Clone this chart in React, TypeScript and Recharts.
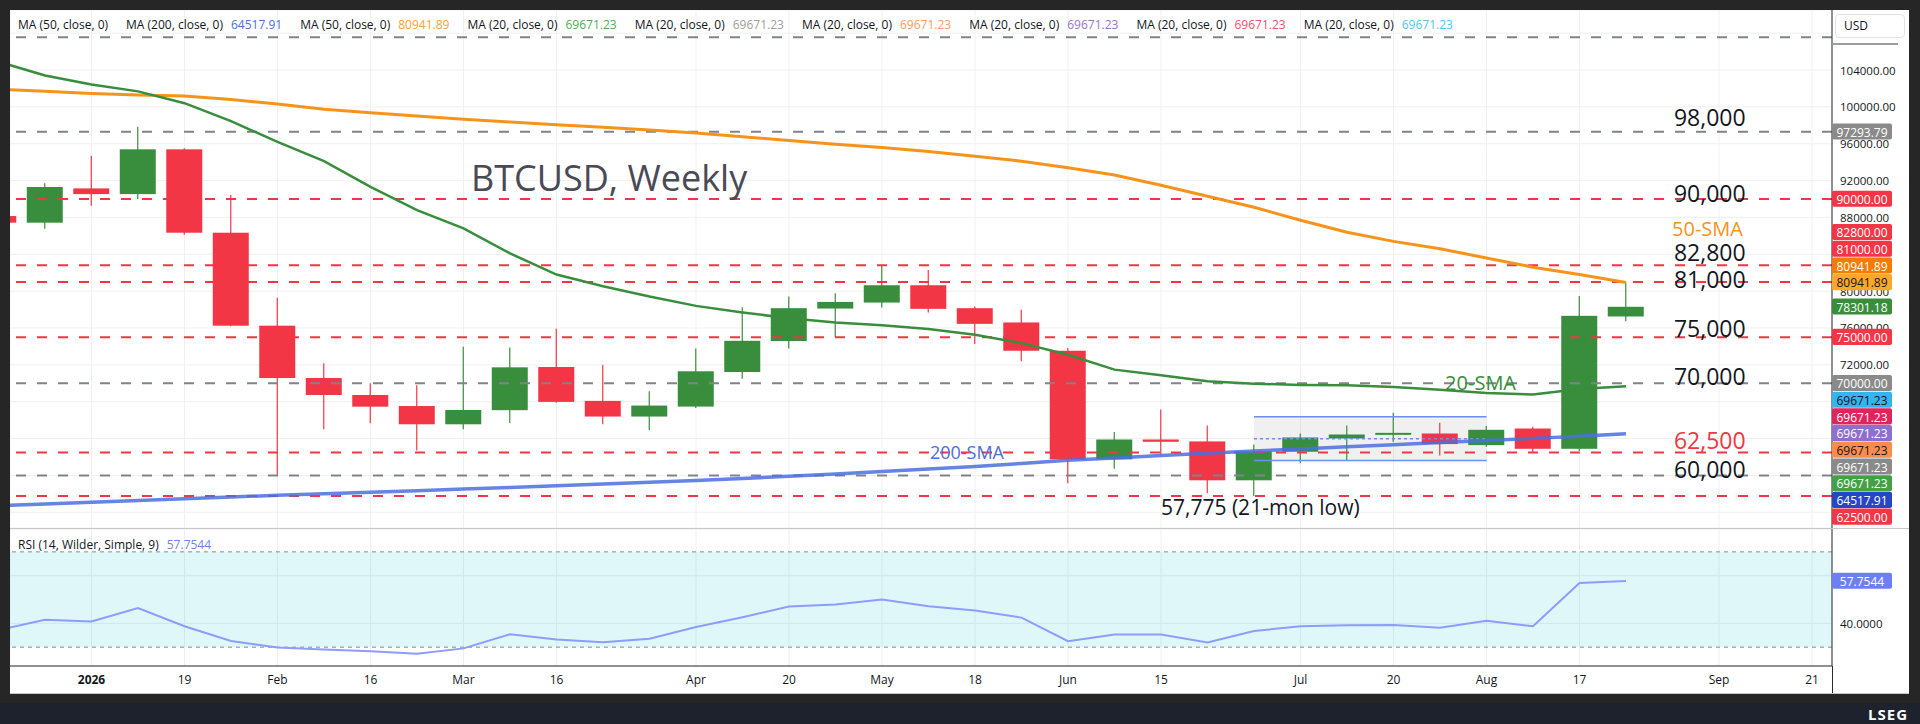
import React from "react";
import {
  ComposedChart,
  Bar,
  Line,
  XAxis,
  YAxis,
  CartesianGrid,
  ReferenceLine,
  ReferenceArea,
  ReferenceDot,
} from "recharts";

const FONT = '"Open Sans", "Noto Sans", sans-serif';
const GREEN = "#388e3c";
const RED = "#f23645";
const GRAY = "#8a8a8a";

// weekly bars, first one is cut off by the left edge
const WEEKS = [
  "Dec 22", "Dec 29", "Jan 5", "Jan 12", "Jan 19", "Jan 26", "Feb 2", "Feb 9", "Feb 16",
  "Feb 23", "Mar 2", "Mar 9", "Mar 16", "Mar 23", "Mar 30", "Apr 6", "Apr 13", "Apr 20",
  "Apr 27", "May 4", "May 11", "May 18", "May 25", "Jun 1", "Jun 8", "Jun 15", "Jun 22",
  "Jun 29", "Jul 6", "Jul 13", "Jul 20", "Jul 27", "Aug 3", "Aug 10", "Aug 17", "Aug 24",
];
const OPEN = [
  88150, 87430, 91150, 90530, 95390, 86340, 76250, 70570, 68730, 67530, 65550, 67080,
  71765, 68090, 66390, 67470, 71220, 74580, 78110, 78760, 80640, 78150, 76600, 73530,
  61740, 63900, 63690, 59470, 62570, 64010, 64480, 64550, 63290, 65090, 62890, 77250,
];
const HIGH = [
  88600, 91700, 94700, 97850, 95500, 90430, 79290, 72170, 70000, 69780, 73970, 73890,
  75910, 71980, 69130, 73780, 78260, 79410, 79770, 82840, 82290, 78330, 77970, 73820,
  64700, 67150, 65420, 63360, 64550, 65420, 66790, 65710, 65350, 65270, 79480, 80940,
];
const LOW = [
  86900, 86780, 89270, 90000, 86130, 76200, 60000, 65000, 65650, 62700, 65000, 65700,
  67900, 65560, 64910, 67330, 70500, 73780, 74970, 78220, 77680, 74250, 72380, 59140,
  60730, 62280, 58060, 57775, 61310, 61670, 63620, 62170, 63100, 62460, 62640, 76740,
];
const CLOSE = [
  87430, 91300, 90530, 95390, 86340, 76250, 70570, 68730, 67460, 65550, 67100, 71730,
  67980, 66390, 67580, 71300, 74610, 78150, 78830, 80640, 78080, 76450, 73530, 61740,
  63900, 63650, 59470, 62610, 64120, 64440, 64620, 63400, 64950, 62890, 77320, 78301.18,
];
const SMA20 = [
  104900, 103400, 102420, 101680, 100400, 98450, 96200, 94120, 91320, 88800, 86820, 84100,
  81800, 80540, 79410, 78400, 77680, 77070, 76600, 76310, 75880, 75260, 74360, 73100,
  71480, 70860, 70210, 69960, 69820, 69780, 69600, 69310, 68950, 68770, 69390, 69671.23,
];
const SMA50 = [
  101900, 101700, 101450, 101300, 101180, 100800, 100300, 99750, 99350, 99000, 98650, 98350,
  98050, 97800, 97500, 97150, 96750, 96350, 95950, 95600, 95150, 94650, 94100, 93400,
  92600, 91500, 90300, 89100, 87700, 86400, 85400, 84600, 83600, 82600, 81800, 80941.89,
];
const SMA200 = [
  56720, 56900, 57090, 57270, 57460, 57650, 57850, 58010, 58180, 58340, 58520, 58700,
  58880, 59060, 59250, 59450, 59670, 59900, 60150, 60420, 60700, 60980, 61300, 61650,
  61900, 62150, 62400, 62640, 62870, 63100, 63330, 63560, 63790, 64020, 64260, 64517.91,
];
const RSI = [
  37.2, 41.5, 40.8, 46.4, 38.8, 32.6, 29.9, 29.0, 28.3, 27.2, 29.5, 35.4,
  33.2, 32.1, 33.5, 38.5, 42.6, 47.1, 47.9, 50.0, 47.2, 45.4, 42.4, 32.5,
  35.3, 35.3, 32.0, 36.8, 38.8, 39.2, 39.3, 38.2, 41.1, 38.8, 56.9, 57.7544,
];
const RSI_LAST = 57.7544;

// time axis (week number -> label)
const TICK_WEEKS = [1, 3, 5, 7, 9, 11, 14, 16, 18, 20, 22, 24, 27, 29, 31, 33, 36, 38];
const TICK_LABELS = ["2026", "19", "Feb", "16", "Mar", "16", "Apr", "20", "May", "18", "Jun", "15", "Jul", "20", "Aug", "17", "Sep", "21"];

const PRICE_TICKS = [56000, 60000, 64000, 68000, 72000, 76000, 80000, 84000, 88000, 92000, 96000, 100000, 104000, 108000];
const PRICE_DOMAIN: [number, number] = [54293, 110512];
const PRICE_LABEL_MAX = 106000; // numbers above this sit under the USD header
const RSI_TICKS = [40, 60];
const RSI_DOMAIN: [number, number] = [22.1, 79.6];
const X_DOMAIN: [number, number] = [-0.753, 38.43];

// horizontal level lines
const LEVELS = [107550, 97293.79, 90000, 82800, 81000, 75000, 70000, 62500, 60000, 57775];
const LEVEL_KIND = ["gray", "gray", "red", "red", "red", "red", "gray", "red", "gray", "red"];

// consolidation box
const BOX = { from: 26, to: 31, top: 66360, bottom: 61630, mid: 63980 };

// price-scale badges, top to bottom
const BADGE_VALUES = [
  97293.79, 90000, 82800, 81000, 80941.89, 80941.89, 78301.18, 75000, 70000,
  69671.23, 69671.23, 69671.23, 69671.23, 69671.23, 69671.23, 64517.91, 62500,
];
const BADGE_BG = [
  GRAY, RED, RED, RED, "#f57c00", "#ffa726", GREEN, RED, GRAY,
  "#33b5f0", "#e0245e", "#8e6fd0", "#ff8c4a", GRAY, "#43a047", "#2446c7", RED,
];
const BADGE_FG = [
  "#fff", "#fff", "#fff", "#fff", "#fff", "#131722", "#fff", "#fff", "#fff",
  "#131722", "#fff", "#fff", "#131722", "#fff", "#fff", "#fff", "#fff",
];
const BADGE_ANCHOR = 6; // last price keeps its own place, others are pushed away

const NOTES = [
  { text: "BTCUSD, Weekly", i: 9.16, price: 92279, color: "#4a4a55", size: 36 },
  { text: "98,000", i: 35.03, price: 98899, color: "#131722", size: 23 },
  { text: "90,000", i: 35.03, price: 90597, color: "#131722", size: 23 },
  { text: "50-SMA", i: 34.99, price: 86852, color: "#f7931a", size: 20 },
  { text: "82,800", i: 35.03, price: 84247, color: "#131722", size: 23 },
  { text: "81,000", i: 35.03, price: 81317, color: "#131722", size: 23 },
  { text: "75,000", i: 35.03, price: 75999, color: "#131722", size: 23 },
  { text: "70,000", i: 35.03, price: 70790, color: "#131722", size: 23 },
  { text: "20-SMA", i: 30.11, price: 70030, color: GREEN, size: 20 },
  { text: "62,500", i: 35.03, price: 63844, color: RED, size: 23 },
  { text: "60,000", i: 35.03, price: 60697, color: "#131722", size: 23 },
  { text: "200-SMA", i: 19.03, price: 62540, color: "#4a6ee0", size: 18 },
  { text: "57,775 (21-mon low)", i: 24.0, price: 56572, color: "#131722", size: 21 },
];

const LEGEND = [
  { label: "MA (50, close, 0)", value: "", color: "" },
  { label: "MA (200, close, 0)", value: "64517.91", color: "#4a6ee0" },
  { label: "MA (50, close, 0)", value: "80941.89", color: "#f9a13a" },
  { label: "MA (20, close, 0)", value: "69671.23", color: "#4caf50" },
  { label: "MA (20, close, 0)", value: "69671.23", color: "#9e9e9e" },
  { label: "MA (20, close, 0)", value: "69671.23", color: "#ff9a5c" },
  { label: "MA (20, close, 0)", value: "69671.23", color: "#9575cd" },
  { label: "MA (20, close, 0)", value: "69671.23", color: "#f0506e" },
  { label: "MA (20, close, 0)", value: "69671.23", color: "#4fc3f7" },
];

const rows = WEEKS.map((w, k) => ({
  i: k - 1,
  week: w,
  open: OPEN[k],
  high: HIGH[k],
  low: LOW[k],
  close: CLOSE[k],
  range: [LOW[k], HIGH[k]],
  sma20: SMA20[k],
  sma50: SMA50[k],
  sma200: SMA200[k],
  rsi: RSI[k],
}));

const PRICE_W = 1899;
const PRICE_H = 518;
const RSI_PLOT_H = 137;
const AXIS_W = 77;
const BADGE_H = 16.7;

// stack the badges so they do not overlap (done in price units)
const unitsPerPx = (PRICE_DOMAIN[1] - PRICE_DOMAIN[0]) / PRICE_H;
const step = BADGE_H * unitsPerPx;
const badgeAt: number[] = [...BADGE_VALUES];
for (let k = BADGE_ANCHOR - 1; k >= 0; k--) badgeAt[k] = Math.max(BADGE_VALUES[k], badgeAt[k + 1] + step);
for (let k = BADGE_ANCHOR + 1; k < BADGE_VALUES.length; k++) badgeAt[k] = Math.min(BADGE_VALUES[k], badgeAt[k - 1] - step);

// axis numbers that sit fully under a badge are not drawn (grid line stays)
const priceTickHidden = (v: number) => v > PRICE_LABEL_MAX || badgeAt.some((b) => Math.abs(b - v) < step * 0.5);
const rsiStep = BADGE_H * ((RSI_DOMAIN[1] - RSI_DOMAIN[0]) / RSI_PLOT_H);
const rsiTickHidden = (v: number) => Math.abs(RSI_LAST - v) < rsiStep * 0.5;

const Candle = (props: any) => {
  const { x, y, width, height, payload } = props;
  const top = Math.min(y, y + height);
  const h = Math.abs(height);
  const { open, close, high, low } = payload;
  const ppu = h / (high - low || 1);
  const yOf = (v: number) => top + (high - v) * ppu;
  const color = close >= open ? GREEN : RED;
  const bTop = yOf(Math.max(open, close));
  const bBot = yOf(Math.min(open, close));
  const cx = x + width / 2;
  return (
    <g>
      <line x1={cx} x2={cx} y1={top} y2={top + h} stroke={color} strokeWidth={1.2} />
      <rect x={x} y={bTop} width={width} height={Math.max(bBot - bTop, 2)} fill={color} />
    </g>
  );
};

const badge = (text: string, bg: string, fg: string) => (p: any) => {
  const vb = p.viewBox || {};
  const x0 = (vb.x || 0) + (vb.width || 0);
  const yc = vb.y || 0;
  return (
    <g>
      <rect x={x0} y={yc - BADGE_H / 2} width={60} height={BADGE_H - 0.6} rx={2} fill={bg} />
      <text x={x0 + 30} y={yc + 0.5} textAnchor="middle" dominantBaseline="central" fontSize={12} fill={fg} fontFamily={FONT}>
        {text}
      </text>
    </g>
  );
};

const note = (text: string, color: string, size: number) => (p: any) => {
  const vb = p.viewBox || {};
  return (
    <text
      x={vb.x || 0}
      y={(vb.y || 0) + (vb.height || 0) / 2}
      dominantBaseline="central"
      fontSize={size}
      fill={color}
      fontFamily={FONT}
    >
      {text}
    </text>
  );
};

const axisTick = (digits: number, hidden: (v: number) => boolean) => (p: any) => {
  const v = p.payload.value;
  if (hidden(v)) return <g />;
  return (
    <text x={p.x} y={p.y} dominantBaseline="central" fontSize={11.5} fill="#131722" fontFamily={FONT}>
      {Number(v).toFixed(digits)}
    </text>
  );
};

const TimeTick = (p: any) => {
  const k = TICK_WEEKS.indexOf(p.payload.value);
  const label = k >= 0 ? TICK_LABELS[k] : "";
  return (
    <text x={p.x} y={p.y + 10} textAnchor="middle" fontSize={12} fontWeight={label === "2026" ? 700 : 400} fill="#131722" fontFamily={FONT}>
      {label}
    </text>
  );
};

export default function App() {
  return (
    <div style={{ position: "absolute", left: 0, top: 0, width: 1920, height: 724, background: "#262626", overflow: "hidden", fontFamily: FONT }}>
      <div style={{ position: "absolute", left: 10, top: 10, width: 1899, height: 683, background: "#fff" }} />

      {/* price pane */}
      <div style={{ position: "absolute", left: 10, top: 10 }}>
        <ComposedChart width={PRICE_W} height={PRICE_H} data={rows} margin={{ top: 0, right: 0, bottom: 0, left: 0 }}>
          <CartesianGrid stroke="#f0f0f0" />
          <XAxis dataKey="i" type="number" domain={X_DOMAIN} allowDataOverflow ticks={TICK_WEEKS} hide />
          <YAxis
            orientation="right"
            width={AXIS_W}
            domain={PRICE_DOMAIN}
            allowDataOverflow
            ticks={PRICE_TICKS}
            interval={0}
            tick={axisTick(2, priceTickHidden)}
            tickLine={false}
            axisLine={{ stroke: "#2a2a2a" }}
          />
          <ReferenceArea x1={BOX.from} x2={BOX.to} y1={BOX.bottom} y2={BOX.top} fill="#000" fillOpacity={0.06} stroke="none" />
          {LEVELS.map((v, k) => (
            <ReferenceLine
              key={`lv-${k}`}
              y={v}
              stroke={LEVEL_KIND[k] === "red" ? RED : "#80838c"}
              strokeWidth={2}
              strokeDasharray="10 11"
            />
          ))}
          <ReferenceLine segment={[{ x: BOX.from, y: BOX.top }, { x: BOX.to, y: BOX.top }]} stroke="#6d8ff0" strokeWidth={1.5} />
          <ReferenceLine segment={[{ x: BOX.from, y: BOX.bottom }, { x: BOX.to, y: BOX.bottom }]} stroke="#6d8ff0" strokeWidth={1.5} />
          <ReferenceLine segment={[{ x: BOX.from, y: BOX.mid }, { x: BOX.to, y: BOX.mid }]} stroke="#6d8ff0" strokeWidth={1.5} strokeDasharray="3 3" />
          <Bar dataKey="range" barSize={36} shape={<Candle />} isAnimationActive={false} />
          <Line type="linear" dataKey="sma50" stroke="#f7931a" strokeWidth={3} dot={false} activeDot={false} isAnimationActive={false} />
          <Line type="linear" dataKey="sma20" stroke={GREEN} strokeWidth={2.5} dot={false} activeDot={false} isAnimationActive={false} />
          <Line type="linear" dataKey="sma200" stroke="#4a6ee0" strokeOpacity={0.85} strokeWidth={3.5} dot={false} activeDot={false} isAnimationActive={false} />
          {NOTES.map((n, k) => (
            <ReferenceDot key={`n-${k}`} x={n.i} y={n.price} r={0} fill="none" stroke="none" label={note(n.text, n.color, n.size)} />
          ))}
        </ComposedChart>
      </div>

      {/* RSI pane + time axis */}
      <div style={{ position: "absolute", left: 10, top: 529 }}>
        <ComposedChart width={PRICE_W} height={RSI_PLOT_H + 27} data={rows} margin={{ top: 0, right: 0, bottom: 0, left: 0 }}>
          <ReferenceArea y1={30} y2={70} fill="rgb(0,188,212)" fillOpacity={0.12} stroke="none" />
          <CartesianGrid stroke="#eeeeee" />
          <ReferenceLine y={70} stroke="#8a8a8a" strokeDasharray="4 4" />
          <ReferenceLine y={30} stroke="#8a8a8a" strokeDasharray="4 4" />
          <XAxis
            dataKey="i"
            type="number"
            domain={X_DOMAIN}
            allowDataOverflow
            ticks={TICK_WEEKS}
            interval={0}
            height={27}
            tick={<TimeTick />}
            tickLine={false}
            axisLine={{ stroke: "#2a2a2a" }}
          />
          <YAxis
            orientation="right"
            width={AXIS_W}
            domain={RSI_DOMAIN}
            allowDataOverflow
            ticks={RSI_TICKS}
            interval={0}
            tick={axisTick(4, rsiTickHidden)}
            tickLine={false}
            axisLine={{ stroke: "#2a2a2a" }}
          />
          <Line type="linear" dataKey="rsi" stroke="#8c9cff" strokeWidth={2} dot={false} activeDot={false} isAnimationActive={false} />
        </ComposedChart>
      </div>

      {/* badge layers on top of the price scales (same scales, no series) */}
      <div style={{ position: "absolute", left: 10, top: 10 }}>
        <ComposedChart width={PRICE_W} height={PRICE_H} data={rows} margin={{ top: 0, right: AXIS_W, bottom: 0, left: 0 }}>
          <XAxis dataKey="i" type="number" domain={X_DOMAIN} allowDataOverflow hide />
          <YAxis domain={PRICE_DOMAIN} allowDataOverflow hide />
          {BADGE_VALUES.map((v, k) => (
            <ReferenceLine key={`b-${k}`} y={badgeAt[k]} stroke="none" label={badge(v.toFixed(2), BADGE_BG[k], BADGE_FG[k])} />
          ))}
        </ComposedChart>
      </div>
      <div style={{ position: "absolute", left: 10, top: 529 }}>
        <ComposedChart width={PRICE_W} height={RSI_PLOT_H} data={rows} margin={{ top: 0, right: AXIS_W, bottom: 0, left: 0 }}>
          <XAxis dataKey="i" type="number" domain={X_DOMAIN} allowDataOverflow hide />
          <YAxis domain={RSI_DOMAIN} allowDataOverflow hide />
          <ReferenceLine y={RSI_LAST} stroke="none" label={badge(RSI_LAST.toFixed(4), "#6c7ff5", "#fff")} />
        </ComposedChart>
      </div>

      {/* pane separator and frame bits */}
      <div style={{ position: "absolute", left: 10, top: 528, width: 1899, height: 1, background: "#c8c8c8" }} />
      <div style={{ position: "absolute", left: 1832, top: 666, width: 1, height: 27, background: "#2a2a2a" }} />
      <div style={{ position: "absolute", left: 10, top: 693, width: 1899, height: 1, background: "#c8c8c8" }} />

      {/* legend */}
      <div style={{ position: "absolute", left: 18, top: 16, display: "flex", gap: 18, fontSize: 12, lineHeight: "18px", color: "#131722", whiteSpace: "nowrap" }}>
        {LEGEND.map((e, k) => (
          <span key={k}>
            {e.label}
            {e.value ? <span style={{ color: e.color, marginLeft: 8 }}>{e.value}</span> : null}
          </span>
        ))}
      </div>
      <div style={{ position: "absolute", left: 18, top: 536, fontSize: 12, lineHeight: "18px", color: "#131722", whiteSpace: "nowrap" }}>
        RSI (14, Wilder, Simple, 9)<span style={{ color: "#6c7ff5", marginLeft: 8 }}>57.7544</span>
      </div>

      {/* price scale header */}
      <div style={{ position: "absolute", left: 1835, top: 14, width: 70, height: 24, border: "1px solid #e0e3eb", borderRadius: 4, background: "#fff", fontSize: 12, lineHeight: "22px", paddingLeft: 8, boxSizing: "border-box", color: "#131722" }}>
        USD
      </div>
      <div style={{ position: "absolute", left: 1832, top: 43, width: 66, height: 2, background: "#9e9e9e" }} />

      {/* footer */}
      <div style={{ position: "absolute", left: 0, top: 703, width: 1920, height: 21, background: "#1e222d" }} />
      <div style={{ position: "absolute", left: 1868, top: 704, fontSize: 15, fontWeight: 700, color: "#fff", letterSpacing: 1, lineHeight: "20px" }}>
        LSEG
      </div>
    </div>
  );
}
